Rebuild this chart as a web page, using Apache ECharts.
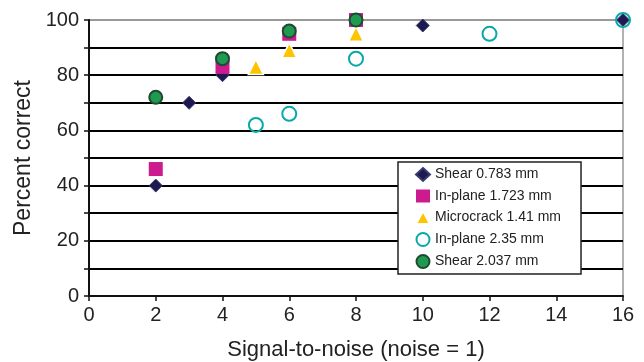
<!DOCTYPE html>
<html><head><meta charset="utf-8">
<script src="https://cdn.jsdelivr.net/npm/echarts@6/dist/echarts.min.js"></script>
<style>html,body{margin:0;padding:0;background:#fff}#c{width:644px;height:362px}</style>
</head><body><div id="c"></div>
<script>
const seriesNames = ['Shear 0.783 mm','In-plane 1.723 mm','Microcrack 1.41 mm','In-plane 2.35 mm','Shear 2.037 mm'];
const shear0783 = [[2,40],[3,70],[4,80],[10,98],[16,100]];
const inplane1723 = [[2,46],[4,83],[6,95],[8,100]];
const microcrack141 = [[5,83],[6,89],[8,95]];
const inplane235 = [[5,62],[6,66],[8,86],[12,95],[16,100]];
const shear2037 = [[2,72],[4,86],[6,96],[8,100]];
const xTicks = [0,2,4,6,8,10,12,14,16];
const yLabels = [0,20,40,60,80,100];

const FONT = 'Liberation Sans';
const chart = echarts.init(document.getElementById('c'));
const gridColors = ['#000','#000','#000','#000','#000','#000','#000','#000','#000','#000','#999'];
chart.setOption({
  animation:false,
  textStyle:{fontFamily:FONT},
  grid:{left:89,right:21,top:20,bottom:66,show:true,borderColor:'#999',borderWidth:1.5,
    outerBoundsMode:'none',containLabel:false},
  xAxis:{type:'value',min:xTicks[0],max:xTicks[xTicks.length-1],interval:2,
    name:'Signal-to-noise (noise = 1)',nameLocation:'middle',nameGap:43,
    nameTextStyle:{fontSize:22,color:'#222',fontFamily:FONT},
    axisLine:{lineStyle:{color:'#111',width:2}},
    axisTick:{show:true,length:5,lineStyle:{color:'#111',width:1.5}},
    axisLabel:{fontSize:20,color:'#222',margin:9,fontFamily:FONT},
    splitLine:{show:false}},
  yAxis:{type:'value',min:0,max:100,interval:10,
    name:'Percent correct',nameLocation:'middle',nameGap:45,
    nameTextStyle:{fontSize:23,color:'#222',fontFamily:FONT},
    axisLine:{show:true,lineStyle:{color:'#111',width:2}},
    axisTick:{show:true,length:5,lineStyle:{color:'#111',width:1.5}},
    axisLabel:{fontSize:20,color:'#222',margin:10,fontFamily:FONT,formatter:v=>yLabels.includes(v)?String(v):''},
    splitLine:{show:true,lineStyle:{color:gridColors,width:2}}},
  legend:{orient:'vertical',left:398,top:162,
    backgroundColor:'#fff',borderColor:'#222',borderWidth:1.5,borderRadius:0,
    padding:[5,20,5,17],itemGap:7,itemWidth:14,itemHeight:13,
    textStyle:{fontSize:14,color:'#222',fontFamily:FONT},
    data:seriesNames},
  series:[
    {name:seriesNames[0],type:'scatter',data:shear0783,symbol:'diamond',symbolSize:13,clip:false,
      itemStyle:{color:'#1c1a4f',borderColor:'#3a3a70',borderWidth:1,opacity:1},z:2},
    {name:seriesNames[1],type:'scatter',data:inplane1723,symbol:'rect',symbolSize:14,clip:false,
      itemStyle:{color:'#cc1a8f',opacity:1},z:3},
    {name:seriesNames[2],type:'scatter',data:microcrack141,symbol:'triangle',symbolSize:15,clip:false,
      itemStyle:{color:'#ffc400',borderColor:'#fff',borderWidth:1.5,opacity:1},z:4},
    {name:seriesNames[3],type:'scatter',data:inplane235,symbol:'circle',symbolSize:14,clip:false,
      itemStyle:{color:'rgba(255,255,255,0)',borderColor:'#0aa8a8',borderWidth:2,opacity:1},z:5},
    {name:seriesNames[4],type:'scatter',data:shear2037,symbol:'circle',symbolSize:13,clip:false,
      itemStyle:{color:'#1f9a50',borderColor:'#1e4a30',borderWidth:2,opacity:1},z:6}
  ]
});
</script></body></html>
